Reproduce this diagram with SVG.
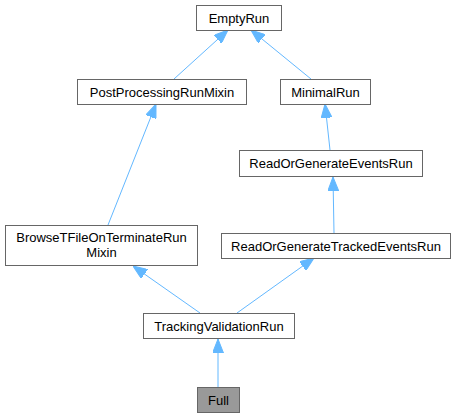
<svg xmlns="http://www.w3.org/2000/svg" width="455" height="417" viewBox="0 0 455 417">
<style>
.n rect{fill:#ffffff;stroke:#666666;stroke-width:1}
.n.hl rect{fill:#999999}
.n text{font-family:"Liberation Sans",Arial,sans-serif;font-size:13px;fill:#000000;text-anchor:middle}
.e path{fill:none;stroke:#63b8ff;stroke-width:1;marker-end:url(#ah)}
</style>
<defs>
<marker id="ah" viewBox="0 0 14 11" refX="14" refY="5.5" markerWidth="14" markerHeight="11" markerUnits="userSpaceOnUse" orient="auto">
<path d="M0,0 L14,5.5 L0,11 z" fill="#63b8ff" stroke="#63b8ff" stroke-width="1"/>
</marker>
</defs>
<rect width="455" height="417" fill="#ffffff"/>
<g id="edges" class="e">
<path d="M174,79 L228,30"/>
<path d="M311,79 L251,30"/>
<path d="M108,225 L156,104"/>
<path d="M330,150 L325,104"/>
<path d="M334,233 L333,177"/>
<path d="M200,313 L133,266"/>
<path d="M237,313 L314,258"/>
<path d="M218,387 L218,339"/>
</g>
<g id="EmptyRun" class="n"><rect x="196.5" y="5.5" width="85" height="25"/><text x="239" y="22.5">EmptyRun</text></g>
<g id="PostProcessingRunMixin" class="n"><rect x="77.5" y="79.5" width="169" height="25"/><text x="162" y="96.5">PostProcessingRunMixin</text></g>
<g id="MinimalRun" class="n"><rect x="280.5" y="79.5" width="90" height="25"/><text x="325.5" y="96.5">MinimalRun</text></g>
<g id="ReadOrGenerateEventsRun" class="n"><rect x="239.5" y="150.5" width="183" height="26"/><text x="331" y="168">ReadOrGenerateEventsRun</text></g>
<g id="BrowseTFileOnTerminateRunMixin" class="n"><rect x="5.5" y="225.5" width="192" height="40"/><text x="101.5" y="242">BrowseTFileOnTerminateRun</text><text x="101.5" y="257">Mixin</text></g>
<g id="ReadOrGenerateTrackedEventsRun" class="n"><rect x="221.5" y="233.5" width="229" height="25"/><text x="336" y="250.5">ReadOrGenerateTrackedEventsRun</text></g>
<g id="TrackingValidationRun" class="n"><rect x="143.5" y="313.5" width="151" height="25"/><text x="219" y="330.5">TrackingValidationRun</text></g>
<g id="Full" class="n hl"><rect x="197.5" y="387.5" width="42" height="25"/><text x="218.5" y="404.5">Full</text></g>
</svg>
